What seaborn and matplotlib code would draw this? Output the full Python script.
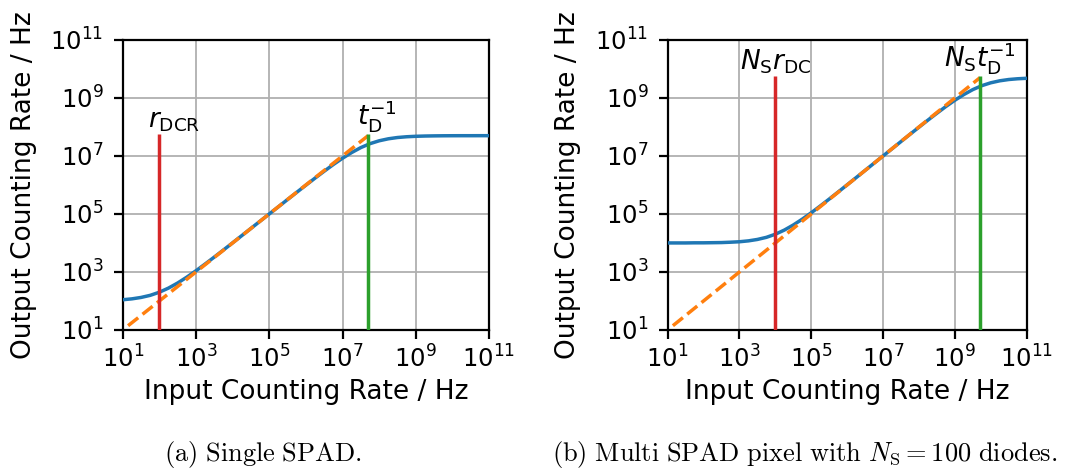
import matplotlib
matplotlib.use("Agg")
import matplotlib.pyplot as plt
from matplotlib.ticker import NullLocator
import pandas as pd
import seaborn as sns

# Input counting rate (Hz), quarter-decade steps from 1e1 to 1e11
input_rate = [1.00e1, 1.78e1, 3.16e1, 5.62e1,
              1.00e2, 1.78e2, 3.16e2, 5.62e2,
              1.00e3, 1.78e3, 3.16e3, 5.62e3,
              1.00e4, 1.78e4, 3.16e4, 5.62e4,
              1.00e5, 1.78e5, 3.16e5, 5.62e5,
              1.00e6, 1.78e6, 3.16e6, 5.62e6,
              1.00e7, 1.78e7, 3.16e7, 5.62e7,
              1.00e8, 1.78e8, 3.16e8, 5.62e8,
              1.00e9, 1.78e9, 3.16e9, 5.62e9,
              1.00e10, 1.78e10, 3.16e10, 5.62e10,
              1.00e11]

# Output counting rate (Hz) of a single SPAD
single_out = [110, 118, 132, 156,
              200, 278, 416, 662,
              1.10e3, 1.88e3, 3.26e3, 5.72e3,
              1.01e4, 1.79e4, 3.17e4, 5.63e4,
              9.99e4, 1.77e5, 3.14e5, 5.56e5,
              9.80e5, 1.72e6, 2.97e6, 5.06e6,
              8.33e6, 1.31e7, 1.94e7, 2.65e7,
              3.33e7, 3.90e7, 4.32e7, 4.59e7,
              4.76e7, 4.86e7, 4.92e7, 4.96e7,
              4.98e7, 4.99e7, 4.99e7, 5.00e7,
              5.00e7]

# Output counting rate (Hz) of a multi SPAD pixel with 100 diodes
multi_out = [1.00e4, 1.00e4, 1.00e4, 1.01e4,
             1.01e4, 1.02e4, 1.03e4, 1.06e4,
             1.10e4, 1.18e4, 1.32e4, 1.56e4,
             2.00e4, 2.78e4, 4.16e4, 6.62e4,
             1.10e5, 1.88e5, 3.26e5, 5.72e5,
             1.01e6, 1.79e6, 3.17e6, 5.63e6,
             9.99e6, 1.77e7, 3.14e7, 5.56e7,
             9.80e7, 1.72e8, 2.97e8, 5.06e8,
             8.33e8, 1.31e9, 1.94e9, 2.65e9,
             3.33e9, 3.90e9, 4.32e9, 4.59e9,
             4.76e9]

# Ideal response (output = input)
ideal_single = [14, 5e7]
ideal_multi = [14, 5e9]

# Marker positions: dark count rate and inverse dead time
dark_single, dead_single = 1e2, 5e7
dark_multi, dead_multi = 1e4, 5e9
marker_top_single, marker_top_multi = 5.5e7, 5.5e9

ticks = [1e1, 1e3, 1e5, 1e7, 1e9, 1e11]

sns.set_theme(style="ticks")
plt.rcParams.update({
    "font.family": ["DejaVu Sans"],
    "mathtext.fontset": "dejavusans",
    "text.color": "black",
    "axes.labelcolor": "black",
    "axes.edgecolor": "black",
    "axes.linewidth": 1.6,
    "xtick.color": "black",
    "ytick.color": "black",
    "xtick.major.size": 6.8,
    "ytick.major.size": 6.8,
    "xtick.major.width": 1.6,
    "ytick.major.width": 1.6,
    "xtick.major.pad": 4,
    "ytick.major.pad": 7,
    "axes.labelsize": 19,
})

C_BLUE, C_ORANGE, C_GREEN, C_RED = "#1f77b4", "#ff7f0e", "#2ca02c", "#d62728"
LW = 2.5

fig = plt.figure(figsize=(10.71, 4.70), dpi=100)
ax1 = fig.add_axes([0.1146, 0.298, 0.342, 0.617])
ax2 = fig.add_axes([0.6234, 0.298, 0.3352, 0.617])

panels = [
    (ax1, single_out, ideal_single, dark_single, dead_single, marker_top_single,
     r"$r_\mathrm{DCR}$", r"$t_\mathrm{D}^{-1}$", 15, 9),
    (ax2, multi_out, ideal_multi, dark_multi, dead_multi, marker_top_multi,
     r"$N_\mathrm{S}r_\mathrm{DC}$", r"$N_\mathrm{S}t_\mathrm{D}^{-1}$", 0, 0),
]

for ax, out, ideal, dark, dead, top, dark_lbl, dead_lbl, dx_dark, dx_dead in panels:
    curve = pd.DataFrame({"inp": input_rate, "out": out})
    sns.lineplot(data=curve, x="inp", y="out", ax=ax, color=C_BLUE,
                 linewidth=LW, zorder=3)
    line = pd.DataFrame({"inp": ideal, "out": ideal})
    sns.lineplot(data=line, x="inp", y="out", ax=ax, color=C_ORANGE,
                 linewidth=LW, linestyle="--", zorder=4)
    ax.vlines(dark, 1e1, top, color=C_RED, linewidth=LW, zorder=5)
    ax.vlines(dead, 1e1, top, color=C_GREEN, linewidth=LW, zorder=5)

    ax.set_xscale("log")
    ax.set_yscale("log")
    ax.set_xlim(1e1, 1e11)
    ax.set_ylim(1e1, 1e11)
    ax.set_xticks(ticks)
    ax.set_yticks(ticks)
    ax.xaxis.set_minor_locator(NullLocator())
    ax.yaxis.set_minor_locator(NullLocator())
    ax.tick_params(axis="both", which="major", labelsize=17.5, colors="black")
    ax.grid(True, color="#b0b0b0", linewidth=1.3, zorder=0)
    ax.set_axisbelow(True)

    ax.set_xlabel("Input Counting Rate / Hz", labelpad=5)
    ax.set_ylabel("Output Counting Rate / Hz", labelpad=10)

    ax.annotate(dark_lbl, (dark, top), xytext=(dx_dark, 0), textcoords="offset pixels",
                ha="center", va="bottom", fontsize=19)
    ax.annotate(dead_lbl, (dead, top), xytext=(dx_dead, 0), textcoords="offset pixels",
                ha="center", va="bottom", fontsize=19)

fig.text(263 / 1071, 1 - 454 / 470, r"$\mathrm{(a)\ Single\ SPAD.}$",
         math_fontfamily="cm", fontsize=19, ha="center", va="center")
fig.text(805 / 1071, 1 - 454 / 470,
         r"$\mathrm{(b)\ Multi\ SPAD\ pixel\ with\ }N_\mathrm{S}=100\mathrm{\ diodes.}$",
         math_fontfamily="cm", fontsize=19, ha="center", va="center")

fig.savefig("out.png", dpi=100)
